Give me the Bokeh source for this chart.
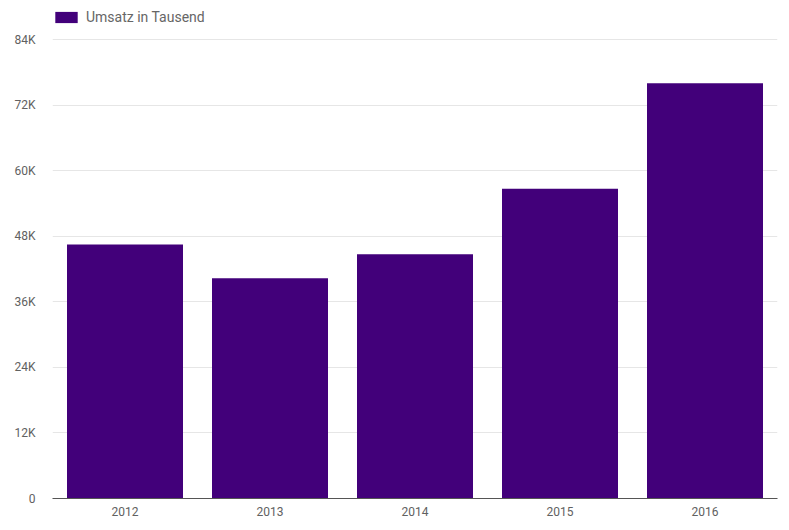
from bokeh.plotting import figure
from bokeh.models import ColumnDataSource, FixedTicker, Legend, LegendItem, Range1d, FactorRange
from bokeh.embed import file_html
from bokeh.resources import INLINE

years = ["2012", "2013", "2014", "2015", "2016"]
umsatz = [46500, 40300, 44700, 56700, 76000]
y_ticks = [0, 12000, 24000, 36000, 48000, 60000, 72000, 84000]
y_tick_labels = ["0", "12K", "24K", "36K", "48K", "60K", "72K", "84K"]
series_name = "Umsatz in Tausend"
bar_color = "#42007a"

# frame spans the whole height above the x axis; the top 39px hold the legend
frame_h = 498
top_px = 39
y_end = y_ticks[-1] * frame_h / (frame_h - top_px)

src = ColumnDataSource(dict(year=years, value=umsatz))

p = figure(width=789, height=530, x_range=FactorRange(*years, range_padding=0),
           y_range=Range1d(0, y_end), output_backend="svg", toolbar_location=None,
           min_border_left=52, min_border_right=12, min_border_top=0, min_border_bottom=32)
p.outline_line_color = None
r = p.vbar(x="year", top="value", width=0.8, source=src, color=bar_color, line_color=None)

p.xgrid.grid_line_color = None
p.ygrid.grid_line_color = "#e6e6e6"
p.ygrid.grid_line_width = 1

p.yaxis.ticker = FixedTicker(ticks=y_ticks)
p.yaxis.major_label_overrides = {t: l for t, l in zip(y_ticks, y_tick_labels)}
p.yaxis.axis_line_color = None
p.yaxis.major_tick_line_color = None
p.yaxis.minor_tick_line_color = None
p.yaxis.major_label_standoff = 11

p.xaxis.axis_line_color = "#555555"
p.xaxis.major_tick_line_color = None
p.xaxis.minor_tick_line_color = None
p.xaxis.major_label_standoff = 2

for ax in (p.xaxis[0], p.yaxis[0]):
    ax.major_label_text_font = "Roboto"
    ax.major_label_text_font_size = "12px"
    ax.major_label_text_color = "#616161"

legend = Legend(items=[LegendItem(label=series_name, renderers=[r])],
                location=(0, frame_h - 25), padding=0, margin=0, spacing=0,
                glyph_width=28, glyph_height=14, label_height=14,
                label_standoff=6, label_text_font="Roboto",
                label_text_font_size="14px", label_text_color="#666666",
                border_line_color=None, background_fill_alpha=0)
p.add_layout(legend, "center")

open("out.html", "w").write(file_html(p, INLINE))
